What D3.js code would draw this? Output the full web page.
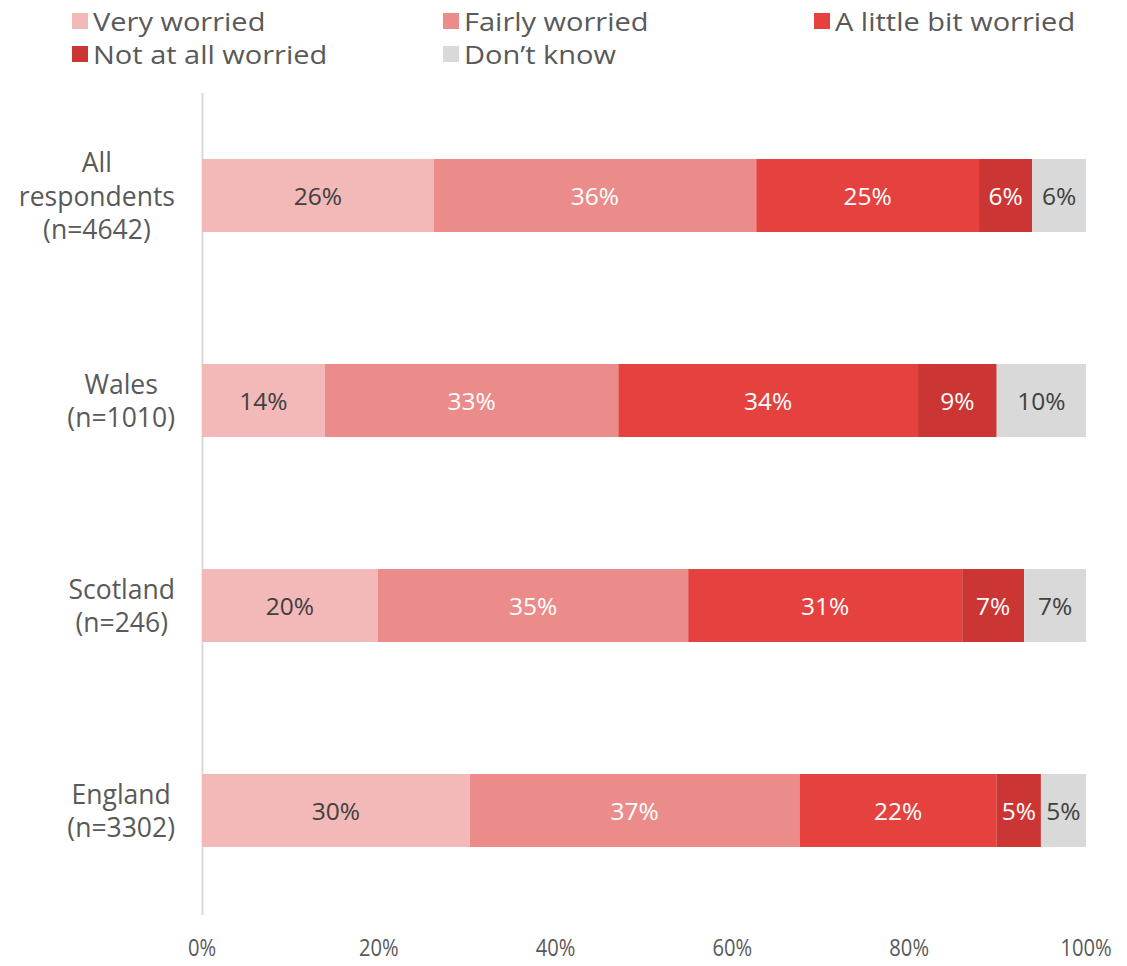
<!DOCTYPE html>
<html><head><meta charset="utf-8">
<script src="https://cdn.jsdelivr.net/npm/d3@7"></script>
<style>body{margin:0;background:#fff;} text{font-family:"Open Sans",sans-serif;}</style>
</head><body><svg id="c" width="1127" height="966"></svg>
<script>
const categories = [["All","respondents","(n=4642)"],["Wales","(n=1010)"],["Scotland","(n=246)"],["England","(n=3302)"]];
const catKeys = ["All respondents","Wales","Scotland","England"];
const seriesNames = ["Very worried","Fairly worried","A little bit worried","Not at all worried","Don\u2019t know"];
const veryWorried = [26.2, 13.9, 19.9, 30.3];
const fairlyWorried = [36.5, 33.2, 35.1, 37.3];
const littleWorried = [25.2, 33.9, 31.0, 22.3];
const notWorried = [6.0, 8.9, 7.0, 5.0];
const dontKnow = [6.1, 10.1, 7.0, 5.1];
const labels = [["26%","36%","25%","6%","6%"],["14%","33%","34%","9%","10%"],["20%","35%","31%","7%","7%"],["30%","37%","22%","5%","5%"]];
const ticks = [0,20,40,60,80,100];
const colors = ["#f2b9b8","#eb8c8b","#e5413e","#cb3533","#d9d9d9"];
const labelColors = ["#404040","#ffffff","#ffffff","#ffffff","#404040"];

const svg = d3.select("#c");
const allSeries = [veryWorried, fairlyWorried, littleWorried, notWorried, dontKnow];
const rows = catKeys.map((k,i)=>{const r={key:k}; seriesNames.forEach((s,j)=>r[s]=allSeries[j][i]); return r;});
const stack = d3.stack().keys(seriesNames)(rows);

const x = d3.scaleLinear().domain([0,100]).range([202,1086]);
const y = d3.scaleBand().domain(catKeys).range([93,913]).paddingInner(0.644).paddingOuter(0.322);

svg.append("line").attr("x1",x(0)+0.5).attr("x2",x(0)+0.5).attr("y1",93).attr("y2",915).attr("stroke","#d9d9d9").attr("stroke-width",2);

const g = svg.append("g");
stack.forEach((layer,j)=>{
  g.selectAll(null).data(layer).enter().append("rect")
    .attr("x",d=>x(d[0])).attr("width",d=>x(d[1])-x(d[0]))
    .attr("y",(d,i)=>y(catKeys[i])).attr("height",y.bandwidth())
    .attr("fill",colors[j]);
  g.selectAll(null).data(layer).enter().append("text")
    .attr("x",d=>(x(d[0])+x(d[1]))/2).attr("y",(d,i)=>y(catKeys[i])+y.bandwidth()/2)
    .attr("text-anchor","middle").attr("dominant-baseline","central")
    .attr("font-size",24.5).attr("fill",labelColors[j])
    .text((d,i)=>labels[i][j]);
});

catKeys.forEach((k,i)=>{
  const lines = categories[i];
  const cy = y(k)+y.bandwidth()/2;
  const lh = 33.5;
  const t = svg.append("text").attr("text-anchor","middle").attr("font-size",26.5).attr("fill","#595959");
  const spans = lines.map((ln,li)=> t.append("tspan").attr("x",0).attr("y",cy + (li-(lines.length-1)/2)*lh).attr("dominant-baseline","central").text(ln));
  const maxW = d3.max(spans, s=>s.node().getComputedTextLength());
  spans.forEach(s=>s.attr("x",175 - maxW/2));
});

const xa = svg.append("g").attr("transform","translate(0,946)");
ticks.forEach(t=>{
  xa.append("text").attr("transform",`translate(${x(t)},0) scale(0.84,1)`).attr("text-anchor","middle")
    .attr("dominant-baseline","central").attr("font-size",24).attr("fill","#595959").text(t+"%");
});

const legPos = [[72,21],[443,21],[814,21],[72,54],[443,54]];
seriesNames.forEach((s,j)=>{
  const [lx,ly] = legPos[j];
  svg.append("rect").attr("x",lx).attr("y",ly-8).attr("width",16).attr("height",16).attr("fill",colors[j]);
  svg.append("text").attr("transform",`translate(${lx+21},${ly}) scale(1.16,1)`).attr("dominant-baseline","central")
    .attr("font-size",25).attr("fill","#595959").text(s);
});
</script></body></html>
